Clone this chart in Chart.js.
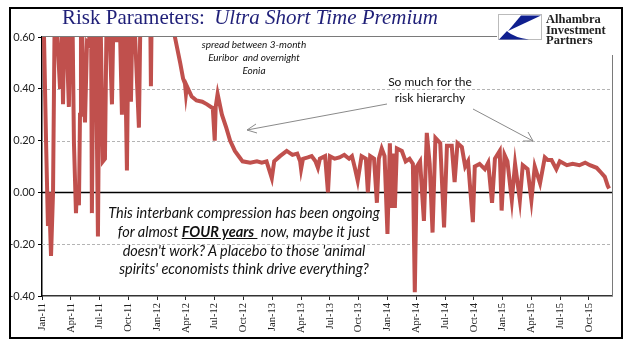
<!DOCTYPE html>
<html>
<head>
<meta charset="utf-8">
<script src="https://cdn.jsdelivr.net/npm/chart.js@4"></script>
<style>
  body { margin: 0; background: #fff; }
  #wrap { position: relative; width: 634px; height: 361px; overflow: hidden; }
  #c { position: absolute; left: 0; top: 0; }
  .ov { position: absolute; white-space: nowrap; }
  #frame { left: 9px; top: 7px; width: 614px; height: 332px; border: 2px solid #000; box-sizing: border-box; }
  #title { left: 62px; top: 5px; font: 21px "Liberation Serif", serif; color: #1f1f78; }
  #title i { margin-left: 4px; }
  #logoText { left: 546px; top: 14px; font: bold 12.5px "Liberation Serif", serif; line-height: 10.5px; color: #222; }
  .note { font-family: Lato, sans-serif; color: #111; text-align: center; }
  #spread { left: 194px; top: 38px; width: 120px; font-size: 10px; font-style: italic; line-height: 13px; }
  #hier { left: 380px; top: 74px; width: 100px; font-size: 12px; line-height: 15.5px; }
  #big { left: 94px; top: 204px; width: 300px; font-size: 14.5px; font-style: italic; line-height: 18.8px; }
  #big b { text-decoration: underline; }
</style>
</head>
<body>
<div id="wrap">
  <canvas id="c" width="634" height="361"></canvas>
  <div class="ov" id="frame"></div>
  <div class="ov" id="title">Risk Parameters: <i>Ultra Short Time Premium</i></div>
  <svg class="ov" style="left:498px;top:14px" width="45" height="26">
    <rect x="0.5" y="0.5" width="43" height="25" fill="#fff" stroke="#bbb"/>
    <polygon points="23,1.5 43,1.5 10,17" fill="#0f1f8f"/>
    <path d="M1,25.5 L9,17 Q15,23 31,25.5 Z" fill="#0f1f8f"/>
  </svg>
  <div class="ov" id="logoText">Alhambra<br>Investment<br>Partners</div>
  <div class="ov note" id="spread">spread between 3-month<br>Euribor&nbsp; and overnight<br>Eonia</div>
  <div class="ov note" id="hier">So much for the<br>risk hierarchy</div>
  <div class="ov note" id="big">This interbank compression has been ongoing<br>for almost <b>FOUR years&nbsp;</b> now, maybe it just<br>doesn't work? A placebo to those 'animal<br>spirits' economists think drive everything?</div>
  <svg class="ov" style="left:0;top:0" width="634" height="361">
    <g stroke="#8a8a8a" stroke-width="1" fill="none">
      <line x1="387" y1="104" x2="247" y2="130"/>
      <polyline points="256,124 247,130 257,133"/>
      <line x1="473" y1="109" x2="533" y2="141"/>
      <polyline points="523,141 533,141 528,132"/>
    </g>
  </svg>
</div>
<script>
// x tick labels, one per quarter
const tickLabels = ['Jan-11','Apr-11','Jul-11','Oct-11','Jan-12','Apr-12','Jul-12','Oct-12',
  'Jan-13','Apr-13','Jul-13','Oct-13','Jan-14','Apr-14','Jul-14','Oct-14',
  'Jan-15','Apr-15','Jul-15','Oct-15'];
const yTicks = [-0.4, -0.2, 0, 0.2, 0.4, 0.6];

// months since Jan-11
const months = [0.0,0.2,0.42,0.62,0.73,0.94,1.15,1.35,1.67,1.88,2.08,2.19,2.4,2.6,2.8,3.0,3.2,3.33,3.54,3.65,
  3.85,3.96,4.06,4.27,4.48,4.69,4.9,5.1,5.2,5.42,5.63,5.83,6.04,6.25,6.35,6.56,6.77,7.08,7.29,7.5,
  7.81,8.02,8.33,8.54,8.85,9.06,9.27,9.48,10.1,10.3,11.25,11.35,11.46,13.1,13.85,14.4,14.7,14.9,15.0,15.1,
  15.6,16.1,16.7,17.2,17.8,18.0,18.1,18.3,18.75,19.2,19.6,20.1,20.6,20.9,21.7,22.4,22.9,23.4,23.95,24.2,
  24.8,25.5,26.1,26.6,26.9,27.0,27.2,27.7,28.1,28.5,28.75,28.96,29.5,29.8,30.0,30.5,31.0,31.5,32.0,32.3,
  32.6,32.9,33.3,33.75,33.96,34.2,34.6,34.9,35.1,35.4,35.7,36.0,36.25,36.46,36.67,36.77,36.98,37.5,37.9,38.3,
  38.65,38.85,39.06,39.4,39.8,40.1,40.4,40.7,41.0,41.5,41.9,42.2,42.7,43.0,43.3,43.75,44.1,44.4,44.9,45.1,
  45.6,46.15,46.5,46.9,47.2,47.7,47.9,48.2,48.5,48.96,49.3,49.8,50.1,50.6,51.0,51.35,51.9,52.4,52.7,53.1,
  53.6,53.96,54.7,55.3,56.0,56.6,57.1,57.8,58.3,58.65,58.96,59.1];

// 3m Euribor minus Eonia
const spread = [0.8,0.62,0.20,-0.13,0.0,-0.245,0.0,0.8,0.55,0.40,0.6,0.34,0.8,0.56,0.33,0.8,0.6,0.19,-0.08,0.02,
  -0.05,0.3,0.8,0.5,0.27,0.58,0.57,0.8,-0.08,0.8,0.55,-0.17,0.8,0.35,0.12,0.13,0.8,0.58,0.34,0.8,
  0.58,0.8,0.30,0.8,0.085,0.8,0.35,0.8,0.25,0.8,0.8,0.41,0.8,0.8,0.60,0.50,0.44,0.42,0.38,0.41,
  0.37,0.355,0.35,0.34,0.325,0.20,0.33,0.38,0.30,0.25,0.20,0.16,0.135,0.12,0.115,0.12,0.115,0.12,0.055,0.12,
  0.14,0.16,0.145,0.15,0.12,0.09,0.13,0.135,0.14,0.12,0.095,0.13,0.14,0.0,0.14,0.13,0.135,0.145,0.13,0.14,
  0.095,0.045,0.14,0.13,0.0,0.14,0.13,-0.04,0.13,0.17,0.14,-0.16,0.19,-0.06,0.15,-0.06,0.17,0.16,0.12,0.13,
  0.11,-0.385,0.10,0.12,-0.11,0.23,0.11,-0.155,0.21,0.19,-0.135,0.18,0.18,0.04,0.19,0.175,0.10,0.12,-0.115,0.10,
  0.11,0.09,0.115,-0.04,0.13,0.16,-0.07,0.145,0.12,-0.03,0.11,-0.03,0.105,0.09,-0.03,0.10,0.035,0.135,0.125,0.125,
  0.09,0.12,0.105,0.11,0.105,0.115,0.105,0.095,0.075,0.06,0.025,0.015];

const dashedAt = [0.4, 0.2, -0.2];

const gridPlugin = {
  id: 'gridLines',
  beforeDatasetsDraw(chart) {
    const { ctx, chartArea: a, scales: { y } } = chart;
    ctx.save();
    ctx.lineWidth = 1;
    ctx.strokeStyle = '#b4b4b4';
    ctx.setLineDash([3, 2]);
    dashedAt.forEach(v => {
      const py = Math.round(y.getPixelForValue(v)) + 0.5;
      ctx.beginPath(); ctx.moveTo(a.left, py); ctx.lineTo(a.right, py); ctx.stroke();
    });
    ctx.setLineDash([]);
    ctx.strokeStyle = '#7a7a7a';
    const top = Math.round(y.getPixelForValue(0.6)) - 0.5;
    ctx.beginPath(); ctx.moveTo(a.left, top); ctx.lineTo(497, top); ctx.stroke();
    ctx.beginPath(); ctx.moveTo(a.right + 0.5, 55); ctx.lineTo(a.right + 0.5, a.bottom); ctx.stroke();
    ctx.strokeStyle = '#000';
    ctx.lineWidth = 1.5;
    const zero = y.getPixelForValue(0);
    ctx.beginPath(); ctx.moveTo(a.left, zero); ctx.lineTo(a.right, zero); ctx.stroke();
    ctx.restore();
  }
};

new Chart(document.getElementById('c').getContext('2d'), {
  type: 'line',
  data: {
    datasets: [{
      data: months.map((m, i) => ({ x: m, y: spread[i] })),
      borderColor: '#c0504d',
      borderWidth: 4,
      pointRadius: 0,
      tension: 0,
      clip: 0
    }]
  },
  options: {
    responsive: false,
    animation: false,
    devicePixelRatio: 1,
    layout: { padding: { top: 37, right: 22, left: 0, bottom: 0 } },
    plugins: { legend: { display: false }, tooltip: { enabled: false } },
    scales: {
      x: {
        type: 'linear',
        min: 0,
        max: 59.4,
        afterFit: s => { s.height = 65; },
        afterBuildTicks: s => { s.ticks = tickLabels.map((_, i) => ({ value: i * 3 })); },
        ticks: {
          callback: v => tickLabels[Math.round(v / 3)],
          minRotation: 90, maxRotation: 90,
          autoSkip: false,
          padding: 3,
          color: '#222',
          font: { family: 'Liberation Serif', size: 10.5 }
        },
        grid: { drawOnChartArea: false, tickLength: 4, tickColor: '#222' },
        border: { color: '#333', width: 1.5 }
      },
      y: {
        min: -0.4,
        max: 0.6,
        afterFit: s => { s.width = 42; },
        afterBuildTicks: s => { s.ticks = yTicks.map(v => ({ value: v })); },
        ticks: {
          callback: v => v.toFixed(2),
          padding: 3,
          color: '#222',
          font: { family: 'Lato', size: 11 }
        },
        grid: { drawOnChartArea: false, tickLength: 4, tickColor: '#000' },
        border: { color: '#000', width: 1.5 }
      }
    }
  },
  plugins: [gridPlugin]
});
</script>
</body>
</html>
